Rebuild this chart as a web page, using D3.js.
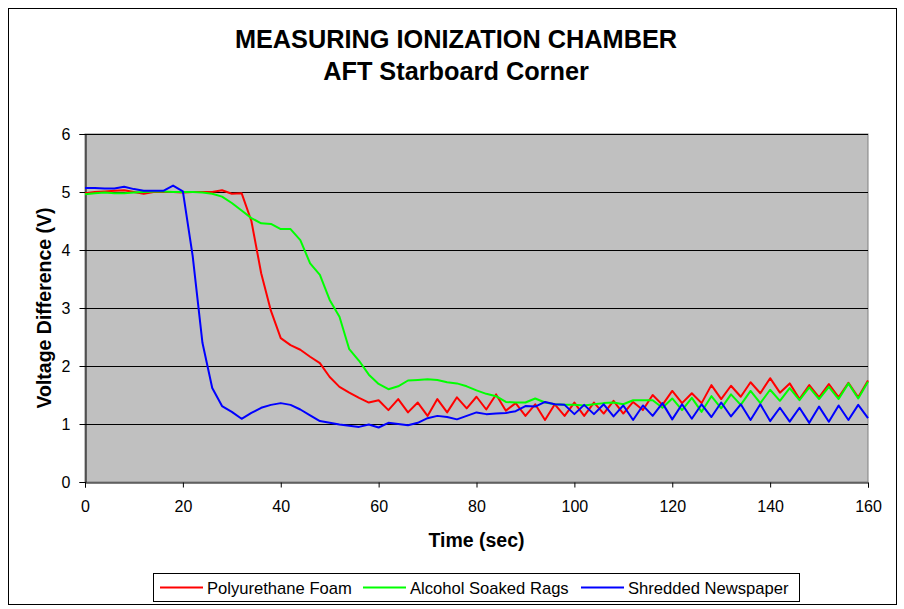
<!DOCTYPE html>
<html><head><meta charset="utf-8">
<script src="https://cdn.jsdelivr.net/npm/d3@7"></script>
<style>body{margin:0;background:#fff}svg text{font-family:Arial,"Liberation Sans",sans-serif}</style>
</head><body><svg id="c" width="904" height="609"></svg>
<script>
const times = d3.range(0, 161, 2);
const seriesNames = ["Polyurethane Foam", "Alcohol Soaked Rags", "Shredded Newspaper"];
const seriesColors = ["#FF0000", "#00FF00", "#0000FF"];
const foam = [4.98,5.0,5.01,5.02,5.03,5.0,4.97,5.0,5.0,5.0,4.99,5.0,5.0,5.0,5.03,4.97,4.98,4.5,3.6,2.95,2.48,2.36,2.28,2.16,2.05,1.81,1.64,1.54,1.45,1.37,1.41,1.24,1.43,1.20,1.37,1.14,1.43,1.20,1.46,1.27,1.47,1.25,1.51,1.23,1.36,1.14,1.34,1.07,1.34,1.14,1.37,1.14,1.37,1.18,1.40,1.18,1.38,1.24,1.50,1.33,1.57,1.36,1.53,1.36,1.67,1.43,1.66,1.47,1.72,1.53,1.79,1.54,1.70,1.43,1.67,1.46,1.69,1.46,1.71,1.46,1.75];
const rags = [4.96,4.98,4.99,4.98,4.98,4.99,5.0,5.01,5.01,5.0,5.0,5.0,4.99,4.97,4.92,4.81,4.68,4.55,4.46,4.45,4.36,4.36,4.17,3.77,3.57,3.14,2.85,2.29,2.09,1.85,1.69,1.60,1.65,1.75,1.76,1.77,1.76,1.72,1.70,1.65,1.58,1.52,1.48,1.38,1.37,1.37,1.44,1.37,1.34,1.33,1.33,1.32,1.34,1.36,1.37,1.34,1.41,1.41,1.41,1.28,1.44,1.24,1.45,1.21,1.48,1.27,1.51,1.33,1.57,1.36,1.59,1.40,1.62,1.41,1.63,1.43,1.64,1.43,1.70,1.44,1.73];
const newspaper = [5.07,5.07,5.06,5.06,5.09,5.05,5.02,5.02,5.02,5.11,5.01,3.9,2.4,1.62,1.31,1.21,1.09,1.19,1.28,1.33,1.36,1.33,1.25,1.15,1.05,1.02,0.99,0.97,0.95,0.99,0.94,1.02,1.0,0.98,1.02,1.10,1.14,1.12,1.08,1.14,1.20,1.17,1.18,1.19,1.22,1.31,1.30,1.38,1.34,1.33,1.17,1.33,1.17,1.34,1.13,1.32,1.07,1.32,1.14,1.36,1.08,1.34,1.09,1.34,1.12,1.37,1.13,1.34,1.07,1.34,1.05,1.28,1.04,1.28,1.02,1.30,1.04,1.32,1.07,1.33,1.10];
const xTicks = [0,20,40,60,80,100,120,140,160];
const yTicks = [0,1,2,3,4,5,6];
const titleLines = ["MEASURING IONIZATION CHAMBER", "AFT Starboard Corner"];
const xTitle = "Time (sec)";
const yTitle = "Voltage Difference (V)";

const svg = d3.select("#c");
const L = 85, R = 868, T = 134, B = 482;
const x = d3.scaleLinear().domain([0,160]).range([L,R]);
const y = d3.scaleLinear().domain([0,6]).range([B,T]);

svg.append("rect").attr("x",8.5).attr("y",8.5).attr("width",888).attr("height",596)
  .attr("fill","#fff").attr("stroke","#000").attr("stroke-width",1);

svg.append("rect").attr("x",L).attr("y",T).attr("width",R-L).attr("height",B-T)
  .attr("fill","#C0C0C0").attr("stroke","#808080").attr("stroke-width",1);

svg.append("g").selectAll("line").data(yTicks.filter(d=>d>0)).join("line")
  .attr("x1",L).attr("x2",R).attr("y1",d=>Math.round(y(d))+0.5).attr("y2",d=>Math.round(y(d))+0.5)
  .attr("stroke","#000").attr("stroke-width",1);

const xAxis = svg.append("g").attr("transform",`translate(0,${B+0.5})`)
  .call(d3.axisBottom(x).tickValues(xTicks).tickFormat(d3.format("d")).tickSize(5).tickPadding(13));
const yAxis = svg.append("g").attr("transform",`translate(${L+0.5},0)`)
  .call(d3.axisLeft(y).tickValues(yTicks).tickFormat(d3.format("d")).tickSize(6).tickPadding(9));
[xAxis,yAxis].forEach(g=>{
  g.select(".domain").attr("stroke","#000").attr("stroke-width",1);
  g.selectAll(".tick line").attr("stroke","#000");
  g.selectAll("text").attr("font-size",16).attr("fill","#000").attr("font-family",'Arial,"Liberation Sans",sans-serif');
});

const data = [foam, rags, newspaper];
const line = d3.line().x((d,i)=>x(times[i])).y(d=>y(d));
svg.append("g").selectAll("path").data(data).join("path")
  .attr("d",d=>line(d)).attr("fill","none")
  .attr("stroke",(d,i)=>seriesColors[i]).attr("stroke-width",2).attr("stroke-linejoin","round");

svg.append("text").attr("x",456).attr("y",48).attr("text-anchor","middle")
  .attr("font-size",25.3).attr("font-weight","bold").text(titleLines[0]);
svg.append("text").attr("x",456).attr("y",80).attr("text-anchor","middle")
  .attr("font-size",25.3).attr("font-weight","bold").text(titleLines[1]);

svg.append("text").attr("x",(L+R)/2).attr("y",547).attr("text-anchor","middle")
  .attr("font-size",19.5).attr("font-weight","bold").text(xTitle);
svg.append("text").attr("transform",`translate(51,${(T+B)/2}) rotate(-90)`).attr("text-anchor","middle")
  .attr("font-size",19.5).attr("font-weight","bold").text(yTitle);

const lg = svg.append("g");
lg.append("rect").attr("x",153.5).attr("y",573.5).attr("width",646).attr("height",28)
  .attr("fill","#fff").attr("stroke","#000");
const legX = [160, 363, 581];
seriesNames.forEach((n,i)=>{
  lg.append("line").attr("x1",legX[i]).attr("x2",legX[i]+43).attr("y1",587.5).attr("y2",587.5)
    .attr("stroke",seriesColors[i]).attr("stroke-width",2);
  lg.append("text").attr("x",legX[i]+47).attr("y",593.5).attr("font-size",16.6).text(n);
});
</script></body></html>
